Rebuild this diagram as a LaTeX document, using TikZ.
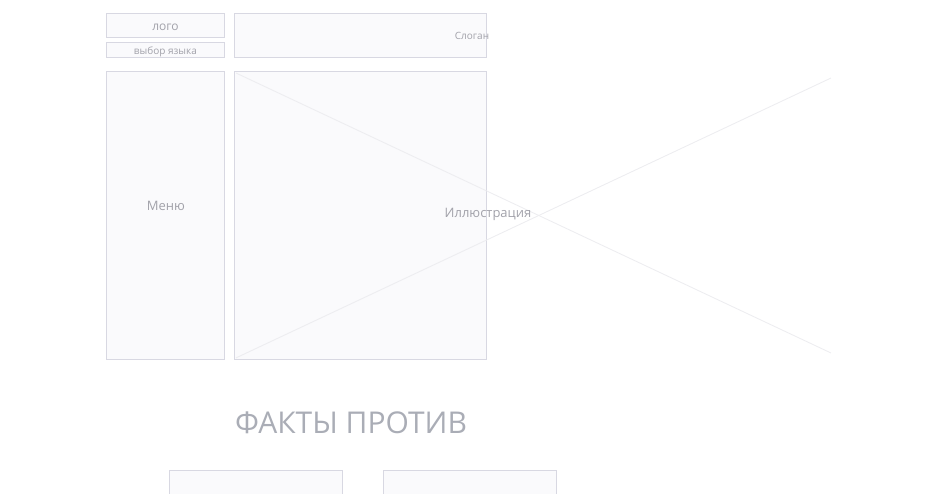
\documentclass[tikz,border=0pt]{standalone}
\usepackage{fontspec}
\setmainfont{Open Sans}
\usepackage{tikz}
\usetikzlibrary{positioning,calc}
\definecolor{wfline}{HTML}{D8D8E2}
\definecolor{wffill}{HTML}{FAFAFC}
\definecolor{wftext}{HTML}{A2A2AA}
\definecolor{wfcross}{HTML}{EDEDF0}
\definecolor{wfhead}{HTML}{AAADB6}
\tikzset{
  wfbox/.style={
    rectangle, draw=wfline, fill=wffill, line width=0.9pt,
    minimum width=#1, inner sep=0pt, anchor=north west
  },
  wfbox/.default=118pt,
  wflabel/.style={
    font=\fontsize{#1}{#1}\selectfont, text=wftext, inner sep=0pt
  },
  wflabel/.default=12,
  crossline/.style={draw=wfcross, line width=0.9pt},
}
\begin{document}
\begin{tikzpicture}[x=1pt,y=-1pt]
\useasboundingbox (0,0) rectangle (944,493);
\clip (0,0) rectangle (944,493);

% Header row
\node[wfbox, minimum height=24pt] (logo) at (106,13) {};
\node[wfbox, minimum height=15pt] (lang) at (106,42) {};
\node[wfbox=252pt, minimum height=44pt] (slogan) at (234,13) {};
\node[wflabel=12] (logotext) at ([yshift=-1.5pt]logo.center) {лого};
\node[wflabel=10] (langtext) at ([yshift=-1.5pt]lang.center) {выбор языка};
\node[wflabel=10] (slogantext) at (472,36) {Слоган};

% Menu and illustration
\node[wfbox, minimum height=288pt] (menu) at (106,71) {};
\node[wfbox=252pt, minimum height=288pt] (illu) at (234,71) {};
\coordinate (crossTR) at (831,78);
\coordinate (crossBR) at (831,353);
\draw[crossline] ([shift={(2pt,-2pt)}]illu.north west) -- (crossBR);
\draw[crossline] ([shift={(2pt,2pt)}]illu.south west) -- (crossTR);
\node[wflabel=13] (menutext) at (166,205.5) {Меню};
\node[wflabel=13] (illutext) at (488,214.5) {Иллюстрация};

% Facts section
\node[font=\fontsize{30}{30}\selectfont, text=wfhead, inner sep=0pt] (facts) at (351,422.5) {ФАКТЫ ПРОТИВ};
\node[wfbox=173pt, minimum height=40pt] (factA) at (169,470) {};
\node[wfbox=173pt, minimum height=40pt] (factB) at (383,470) {};

\end{tikzpicture}
\end{document}
